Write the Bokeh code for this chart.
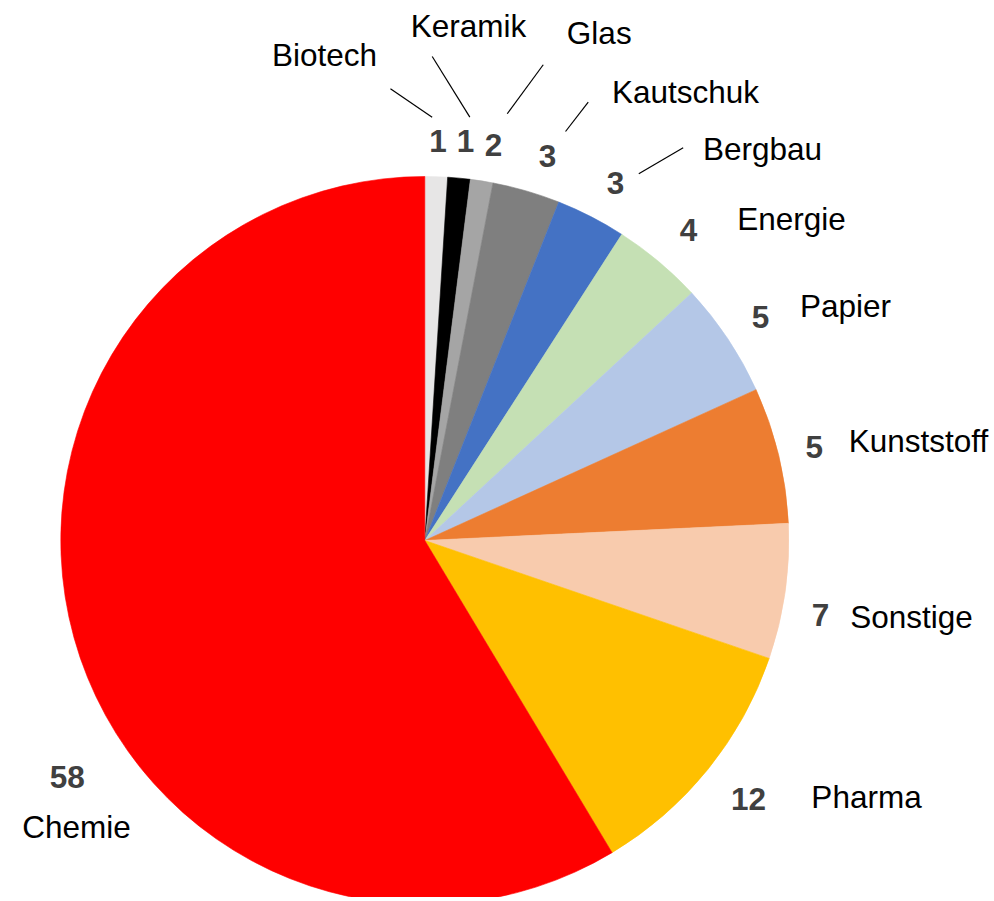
import math
from bokeh.plotting import figure
from bokeh.models import Range1d, ColumnDataSource
from bokeh.core.properties import value
from bokeh.embed import file_html
from bokeh.resources import INLINE

# ---- data ----
categories = ["Biotech", "Keramik", "Glas", "Kautschuk", "Bergbau", "Energie",
              "Papier", "Kunststoff", "Sonstige", "Pharma", "Chemie"]
# slice sizes as drawn (share of the full circle, %)
shares = [1.0, 1.0, 1.0, 3.0, 3.1, 4.0, 5.1, 6.05, 6.0, 11.15, 58.6]
# numbers printed as data labels
label_values = [1, 1, 2, 3, 3, 4, 5, 5, 7, 12, 58]
colors = ["#E7E6E6", "#000000", "#A5A5A5", "#7F7F7F", "#4472C4", "#C5E0B4",
          "#B4C7E7", "#ED7D31", "#F8CBAD", "#FFC000", "#FF0000"]

# ---- layout ----
W, H = 990, 897
CX, CY = 424.3, H - 540.0
R = 364.0
LABEL_R = 403.0
# screen-pixel nudges (+x right, +y down) of the value labels
num_nudge = [(0.5, 3.8), (2.8, 2.2), (5.7, 3.0), (10.3, 2.0), (6.6, 1.0), (4.9, -2.1),
             (0.3, -0.1), (-2.3, 1.2), (-3.3, 18.2), (10.4, 5.2), (30.8, 129.1)]
# category name offsets from the value label
name_offset = [(-113.5, -86), (3, -115), (105.7, -112), (138, -63.5), (147, -34.5),
               (103, -11), (85, -11.5), (104.3, -6.5), (91, 1.5), (118, -1.7), (9.3, 49.8)]
# leader lines, offsets from the value label
leaders = {0: ((-47.5, -52.7), (-5.8, -24.3)),
           1: ((-33.3, -85.0), (4.3, -24.3)),
           2: ((49.7, -80.7), (13.7, -31.7)),
           3: ((40.7, -53.3), (18.0, -24.0)),
           4: ((67.7, -35.2), (23.3, -9.2))}

total = sum(shares)
starts, ends, mids = [], [], []
cum = 0.0
for s in shares:
    a0 = math.pi / 2 - 2 * math.pi * cum / total
    cum += s
    a1 = math.pi / 2 - 2 * math.pi * cum / total
    starts.append(a1)
    ends.append(a0)
    mids.append((a0 + a1) / 2)

n = len(categories)
p = figure(width=W, height=H, x_range=Range1d(0, W), y_range=Range1d(0, H),
           output_backend="svg", toolbar_location=None, min_border=0,
           x_axis_location=None, y_axis_location=None)
p.grid.visible = False
p.outline_line_color = None
p.background_fill_color = "white"

src = ColumnDataSource(dict(x=[CX] * n, y=[CY] * n, start=starts, end=ends,
                            color=colors, cat=categories))
p.wedge(x="x", y="y", radius=R, start_angle="start", end_angle="end",
        fill_color="color", line_color="color", line_width=0.6, source=src)

nx, ny, tx, ty = [], [], [], []
for i in range(n):
    x = CX + LABEL_R * math.cos(mids[i]) + num_nudge[i][0]
    y = CY + LABEL_R * math.sin(mids[i]) - num_nudge[i][1]
    nx.append(x)
    ny.append(y)
    tx.append(x + name_offset[i][0])
    ty.append(y - name_offset[i][1])

p.text(x=nx, y=ny, text=[str(v) for v in label_values],
       text_font=value("Liberation Sans"), text_font_size="31.5px",
       text_font_style="bold", text_color="#404040",
       text_align="center", text_baseline="middle")
p.text(x=tx, y=ty, text=categories,
       text_font=value("Liberation Sans"), text_font_size="31.5px",
       text_color="#000000", text_align="center", text_baseline="middle")

x0, y0, x1, y1 = [], [], [], []
for i, ((ax, ay), (bx, by)) in leaders.items():
    x0.append(nx[i] + ax); y0.append(ny[i] - ay)
    x1.append(nx[i] + bx); y1.append(ny[i] - by)
p.segment(x0=x0, y0=y0, x1=x1, y1=y1, line_color="black", line_width=1.2)

open("out.html", "w").write(file_html(p, INLINE))
